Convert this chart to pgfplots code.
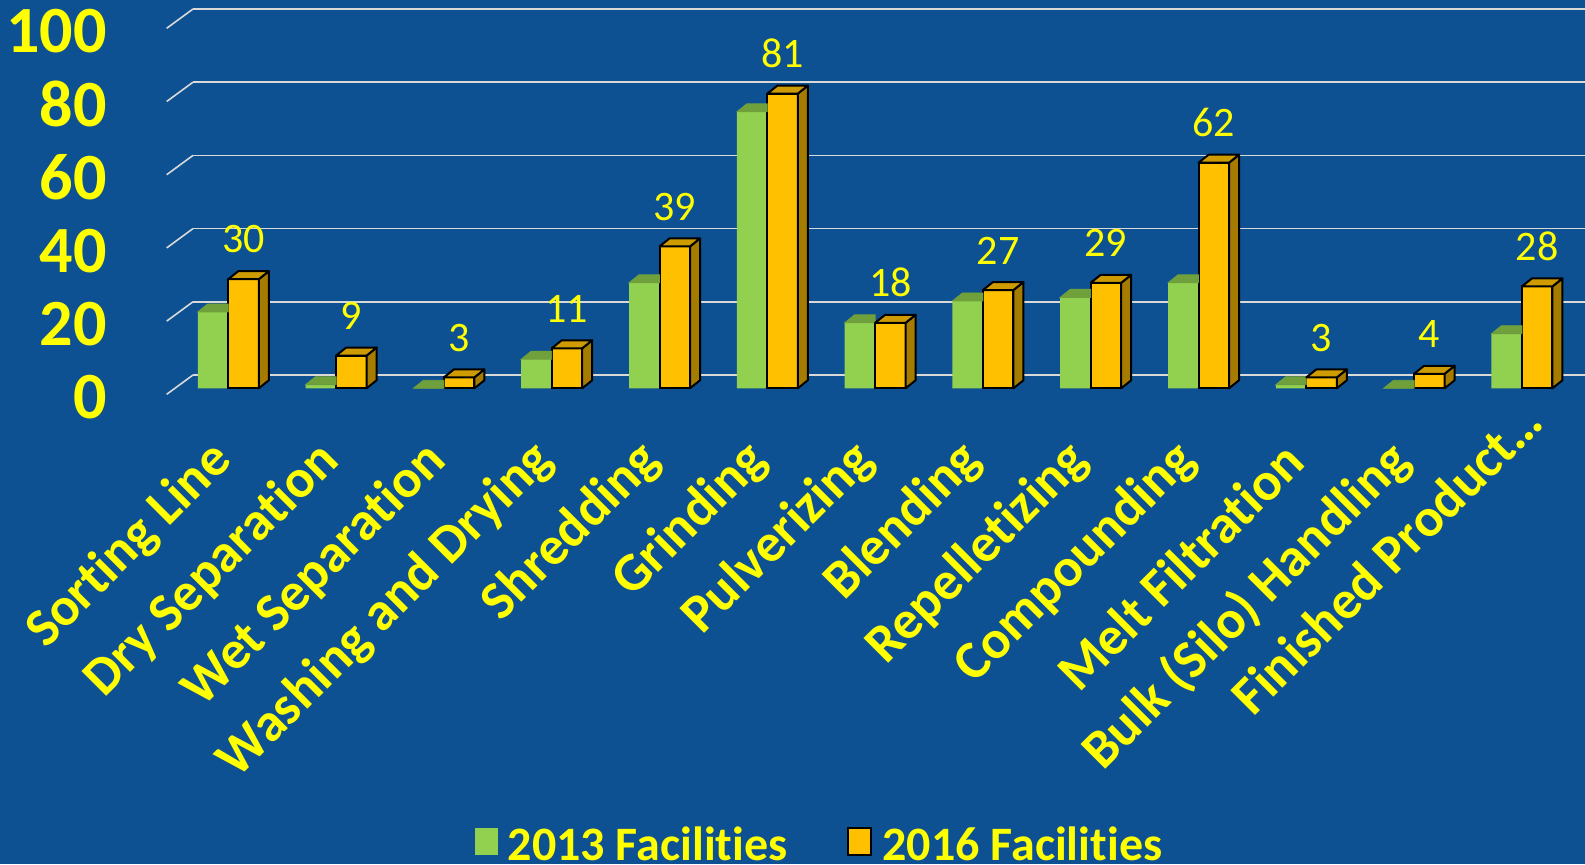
\documentclass[border=0pt]{standalone}
\usepackage{pgfplots}
\pgfplotsset{compat=1.18}
\usepackage{pgfplotstable}
\usepackage{fontspec}
\setmainfont{Carlito}[Ligatures=NoCommon]

\definecolor{bgblue}{RGB}{14,81,147}
\definecolor{gridgray}{RGB}{217,217,217}
\definecolor{labyellow}{RGB}{255,255,0}
\definecolor{g13}{RGB}{146,208,80}
\definecolor{g13top}{RGB}{112,160,60}
\definecolor{o16}{RGB}{255,192,0}
\definecolor{o16top}{RGB}{206,156,0}
\definecolor{o16side}{RGB}{166,124,0}

\newcommand\ytfont{\fontsize{33}{38}\selectfont\bfseries}
\newcommand\xtfont{\fontsize{27}{31}\selectfont\bfseries}
\newcommand\valfont{\fontsize{21}{24}\selectfont}
\newcommand\legfont{\fontsize{24}{28}\selectfont\bfseries}

% x = category, g = 2013 facilities, o = 2016 facilities
\pgfplotstableread{
x g o
0 21 30
1 1 9
2 0 3
3 8 11
4 29 39
5 76 81
6 18 18
7 24 27
8 25 29
9 29 62
10 1 3
11 0 4
12 15 28
}\facilities

% top and side faces of the 3D bars, drawn at the top of each bar
% (1.819pt per unit = bar axis height / 100)
\pgfdeclareplotmark{greenbox}{%
  \fill[g13top] (-15.25pt,0pt) -- (0pt,0pt) -- (0pt,4pt) -- (-10.25pt,4pt) -- cycle;
}
\pgfdeclareplotmark{orangebox}{%
  \pgfmathsetlengthmacro\barh{\barval*1.819pt}%
  \filldraw[fill=o16side, draw=black, line width=1pt, line join=round]
    (15.25pt,0pt) -- (20.25pt,4pt) -- (20.25pt,{4pt-\barh}) -- (15.25pt,-\barh) -- cycle;
  \filldraw[fill=o16top, draw=black, line width=1pt, line join=round]
    (0pt,0pt) -- (15.25pt,0pt) -- (20.25pt,4pt) -- (5pt,4pt) -- cycle;
}

\begin{document}
\begin{tikzpicture}
\path[use as bounding box, fill=bgblue] (0,0) rectangle (792.5pt,432pt);

% back wall: gridlines, y ticks, category names
\begin{axis}[
    at={(96.5pt,244.5pt)}, anchor=south west,
    scale only axis, width=696pt, height=183pt,
    xmin=-0.5, xmax=12.5, ymin=0, ymax=100,
    clip=false,
    axis line style={draw=none},
    major tick length=0pt,
    ymajorgrids=true,
    grid style={gridgray, line width=0.8pt},
    ytick={0,20,40,60,80,100},
    yticklabels={0,20,40,60,80,100},
    yticklabel style={font=\ytfont, text=labyellow, anchor=east,
        inner sep=0pt, xshift=-43pt, yshift=-11pt},
    xtick={0,...,11},
    xticklabels={Sorting Line, Dry Separation, Wet Separation,
        Washing and Drying, Shredding, Grinding, Pulverizing, Blending,
        Repelletizing, Compounding, Melt Filtration,
        Bulk (Silo) Handling},
    extra x ticks={12},
    extra x tick labels={Finished Product…},
    extra x tick style={xticklabel style={xshift=23pt, yshift=5.7pt}},
    xticklabel style={font=\xtfont, text=labyellow, inner sep=0pt,
        anchor=east, xshift=-11.5pt, yshift=-38.5pt, rotate=45},
]
% short perspective stubs of the gridlines at the left
\addplot[gridgray, line width=0.8pt] coordinates {(-0.7456,-5.27) (-0.5,0)};
\addplot[gridgray, line width=0.8pt] coordinates {(-0.7456,14.73) (-0.5,20)};
\addplot[gridgray, line width=0.8pt] coordinates {(-0.7456,34.73) (-0.5,40)};
\addplot[gridgray, line width=0.8pt] coordinates {(-0.7456,54.73) (-0.5,60)};
\addplot[gridgray, line width=0.8pt] coordinates {(-0.7456,74.73) (-0.5,80)};
\addplot[gridgray, line width=0.8pt] coordinates {(-0.7456,94.73) (-0.5,100)};
\end{axis}

% bars
\begin{axis}[
    at={(87.2pt,237.85pt)}, anchor=south west,
    scale only axis, width=700.7pt, height=181.9pt,
    xmin=-0.5, xmax=12.5, ymin=0, ymax=100,
    clip=false,
    axis line style={draw=none},
    xtick=\empty, ytick=\empty,
    /pgf/number format/assume math mode=true,
    legend columns=2,
    legend style={at={(0.4596,-1.2555)}, anchor=center,
        draw=none, fill=none, text=labyellow, font=\legfont,
        nodes={inner sep=0pt},
        /tikz/every odd column/.append style={column sep=5pt},
        /tikz/every even column/.append style={column sep=30pt}},
]
\addplot[ybar, bar width=15.25pt, bar shift=-7.625pt,
    fill=g13, draw=none,
    legend image code/.code={\fill[g13] (0pt,-5pt) rectangle (11.5pt,8.5pt);}]
    table[x=x, y=g] {\facilities};
\addlegendentry{2013 Facilities}

\addplot[forget plot, only marks, mark=greenbox] table[x=x, y=g] {\facilities};

\addplot[ybar, bar width=15.25pt, bar shift=7.625pt,
    fill=o16, draw=black, line width=1pt,
    legend image code/.code={\filldraw[fill=o16, draw=black, line width=1pt]
        (0pt,-5pt) rectangle (11.5pt,8.5pt);},
    nodes near coords,
    every node near coord/.append style={text=labyellow, font=\valfont,
        anchor=south, inner sep=0pt, xshift=7.6pt, yshift=12.5pt}]
    table[x=x, y=o] {\facilities};
\addlegendentry{2016 Facilities}

\addplot[forget plot, only marks, mark=orangebox,
    visualization depends on={y \as \barval}] table[x=x, y=o] {\facilities};
\end{axis}
\end{tikzpicture}
\end{document}
